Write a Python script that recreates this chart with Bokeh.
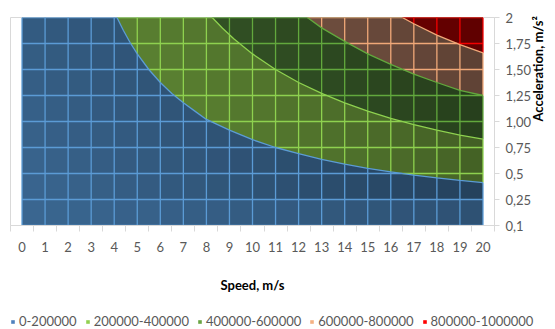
import numpy as np
from bokeh.plotting import figure
from bokeh.layouts import column
from bokeh.models import Range1d, FixedTicker, Legend, LegendItem, ColumnDataSource
from bokeh.embed import file_html
from bokeh.resources import INLINE

# ---------------- data ----------------
speed = list(range(0, 21))                                   # x categories (m/s)
acc_values = [0.1, 0.25, 0.5, 0.75, 1.0, 1.25, 1.5, 1.75, 2.0]  # y categories (m/s^2)
acc_labels = ["0,1", "0,25", "0,5", "0,75", "1,00", "1,25", "1,50", "1,75", "2"]

band_labels = ["0-200000", "200000-400000", "400000-600000", "600000-800000", "800000-1000000"]

# contour boundaries: (speed, acceleration) points
b200_speed = [4.12, 4.4, 4.7, 5.0, 5.5, 6.0, 6.5, 7.0, 7.5, 8.0, 9, 10, 11, 12, 13, 14, 15, 16, 17, 18, 19, 20]
b200_acc = [2.0, 1.875, 1.755, 1.65, 1.5, 1.375, 1.27, 1.18, 1.10, 1.02, 0.917, 0.825, 0.75, 0.69, 0.635, 0.59, 0.55, 0.515, 0.485, 0.458, 0.434, 0.413]
b400_speed = [8.25, 8.7, 9.2, 10, 11, 12, 13, 14, 15, 16, 17, 18, 19, 20]
b400_acc = [2.0, 1.897, 1.793, 1.65, 1.5, 1.375, 1.27, 1.18, 1.10, 1.03, 0.97, 0.917, 0.868, 0.83]
b600_speed = [12.38, 13, 14, 15, 16, 17, 18, 19, 20]
b600_acc = [2.0, 1.90, 1.77, 1.65, 1.55, 1.455, 1.375, 1.30, 1.25]
b800_speed = [16.5, 17, 18, 19, 20]
b800_acc = [2.0, 1.94, 1.83, 1.74, 1.66]

boundaries = [(b200_speed, b200_acc), (b400_speed, b400_acc), (b600_speed, b600_acc), (b800_speed, b800_acc)]

# ---------------- styles ----------------
legend_colors = ["#4F81BD", "#92D050", "#6AA443", "#F4B183", "#FF0000"]
fill_colors = ["#3B6893", "#6F9E3D", "#436D31", "#A7755E", "#B00000"]
wire_colors = ["#5B9BD5", "#8ED14F", "#62A83D", "#F0A878", "#F20000"]
FONT = "Lato"

idx = np.arange(len(acc_values))


def ypos(a):
    return np.interp(a, acc_values, idx)


def bound_acc(k, v):
    bs, ba = boundaries[k]
    if v < bs[0] - 1e-9:
        return np.inf
    return float(np.interp(v, bs, ba))


def band_of(v, a):
    return sum(1 for k in range(len(boundaries)) if a > bound_acc(k, v))


p = figure(frame_width=484, frame_height=208, output_backend="svg", toolbar_location=None,
           x_range=Range1d(speed[0] - 0.5, speed[-1] + 0.5),
           y_range=Range1d(0, len(acc_values) - 1),
           y_axis_location="right",
           min_border_left=10, min_border_right=61, min_border_top=17, min_border_bottom=83)
p.background_fill_color = "white"
p.border_fill_color = "white"
p.outline_line_color = "#D9D9D9"
p.xgrid.visible = False
p.ygrid.visible = False

# base band (lowest)
p.quad(left=speed[0], right=speed[-1], bottom=ypos(acc_values[0]), top=ypos(acc_values[-1]),
       fill_color=fill_colors[0], line_color=None)
# upper bands
for k, (bs, ba) in enumerate(boundaries):
    xs = list(bs) + [speed[-1]]
    ys = list(ypos(ba)) + [ypos(acc_values[-1])]
    p.patch(xs, ys, fill_color=fill_colors[k + 1], line_color=None)

# lighting of the surface, one shade per cell
cx, cy, al = [], [], []
for i in range(len(speed) - 1):
    for j in range(len(acc_values) - 1):
        vc = (speed[i] + speed[i + 1]) / 2
        ac = (acc_values[j] + acc_values[j + 1]) / 2
        da = acc_values[j + 1] - acc_values[j]
        b = 1 - 0.06 * ac - 0.07 * vc * da
        cx.append(vc)
        cy.append(j + 0.5)
        al.append(max(0.0, 1 - b))
p.rect(x=cx, y=cy, width=1, height=1, fill_color="black", fill_alpha=al, line_color=None)

# wireframe grid, coloured by band
seg_xs, seg_ys, seg_c = [], [], []
for v in speed:
    cuts = [acc_values[0], acc_values[-1]]
    for k in range(len(boundaries)):
        ba = bound_acc(k, v)
        if acc_values[0] < ba < acc_values[-1]:
            cuts.append(ba)
    cuts = sorted(cuts)
    for a0, a1 in zip(cuts[:-1], cuts[1:]):
        band = band_of(v, (a0 + a1) / 2)
        seg_xs.append([v, v])
        seg_ys.append([float(ypos(a0)), float(ypos(a1))])
        seg_c.append(wire_colors[band])
for j, a in enumerate(acc_values):
    cuts = [speed[0], speed[-1]]
    for k, (bs, ba) in enumerate(boundaries):
        if min(ba) <= a <= max(ba):
            vcut = float(np.interp(a, ba[::-1], bs[::-1]))
            if speed[0] < vcut < speed[-1]:
                cuts.append(vcut)
    cuts = sorted(cuts)
    for v0, v1 in zip(cuts[:-1], cuts[1:]):
        band = band_of((v0 + v1) / 2, a - 1e-6 if j == len(acc_values) - 1 else a)
        seg_xs.append([v0, v1])
        seg_ys.append([j, j])
        seg_c.append(wire_colors[band])
p.multi_line(xs="xs", ys="ys", line_color="c", line_width=1.3,
             source=ColumnDataSource(dict(xs=seg_xs, ys=seg_ys, c=seg_c)))

# contour boundary lines
for k, (bs, ba) in enumerate(boundaries):
    p.line(bs, ypos(ba), line_color=wire_colors[k], line_width=1.3)

# ---------------- axes ----------------
xa = p.xaxis[0]
xa.ticker = FixedTicker(ticks=speed, minor_ticks=[s - 0.5 for s in speed] + [speed[-1] + 0.5])
xa.major_tick_out = 0
xa.major_tick_in = 0
xa.minor_tick_out = 6
xa.minor_tick_in = 0
xa.minor_tick_line_color = "#D9D9D9"
xa.axis_line_color = "#D9D9D9"
xa.major_label_text_font = FONT
xa.major_label_text_font_size = "13px"
xa.major_label_text_color = "#595959"
xa.major_label_standoff = 10
xa.axis_label = "Speed, m/s"
xa.axis_label_text_font = FONT
xa.axis_label_text_font_style = "bold"
xa.axis_label_text_font_size = "13px"
xa.axis_label_text_color = "black"
xa.axis_label_standoff = 22

ya = p.yaxis[0]
ya.ticker = FixedTicker(ticks=list(idx), minor_ticks=[])
ya.major_label_overrides = {int(i): lab for i, lab in zip(idx, acc_labels)}
ya.major_tick_out = 5
ya.major_tick_in = 0
ya.major_tick_line_color = "#D9D9D9"
ya.axis_line_color = "#D9D9D9"
ya.major_label_text_font = FONT
ya.major_label_text_font_size = "13px"
ya.major_label_text_color = "#595959"
ya.major_label_standoff = 6
ya.axis_label = "Acceleration, m/s²"
ya.axis_label_orientation = np.pi / 2
ya.axis_label_text_font = FONT
ya.axis_label_text_font_style = "bold"
ya.axis_label_text_font_size = "13px"
ya.axis_label_text_color = "black"
ya.axis_label_standoff = 4

# ---------------- legend (separate strip below the chart) ----------------
pl = figure(frame_width=555, frame_height=21, output_backend="svg", toolbar_location=None,
            x_range=Range1d(0, 1), y_range=Range1d(0, 1),
            x_axis_location=None, y_axis_location=None,
            min_border=0, min_border_left=0, min_border_right=0, min_border_top=0, min_border_bottom=0)
pl.outline_line_color = None
pl.xgrid.visible = False
pl.ygrid.visible = False
hidden = [-5.0]   # legend-only renderers sit outside the visible range
items = []
for lab, c in zip(band_labels, legend_colors):
    r = pl.scatter(x=hidden, y=hidden, marker="square", size=9, fill_color=c, line_color=None)
    items.append(LegendItem(label=lab, renderers=[r]))
legend = Legend(items=items, orientation="horizontal", location=(8, 0))
legend.border_line_color = None
legend.background_fill_alpha = 0
legend.label_text_font = FONT
legend.label_text_font_size = "13px"
legend.label_text_color = "#595959"
legend.glyph_width = 9
legend.glyph_height = 9
legend.label_standoff = 2
legend.spacing = 6
legend.padding = 0
legend.margin = 0
legend.label_height = 12
pl.add_layout(legend, "center")

open("out.html", "w").write(file_html(column(p, pl, spacing=0), INLINE))
